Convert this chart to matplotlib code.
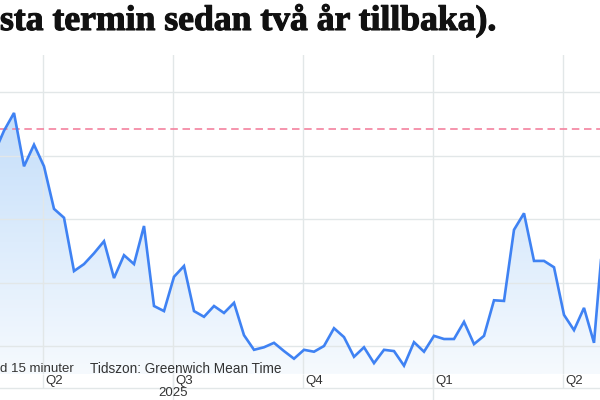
import numpy as np
import matplotlib
matplotlib.use("Agg")
import matplotlib.pyplot as plt
from matplotlib.patches import Polygon
import matplotlib.patheffects as pe

# ---- data (weekly points) ----
week_idx = list(range(-1, 61))
values = [40.3, 43.9, 46.7, 38.3, 41.7, 38.3, 31.6, 30.2, 21.8, 22.9, 24.6,
          26.5, 20.7, 24.3, 22.9, 28.9, 16.3, 15.5, 20.9, 22.6, 15.5,
          14.6, 16.3, 15.2, 16.8, 11.7, 9.4, 9.8, 10.5, 9.2, 8.0,
          9.4, 9.1, 10.0, 12.8, 11.4, 8.3, 9.8, 7.3, 9.4, 9.2,
          6.9, 10.6, 9.1, 11.6, 11.1, 11.1, 13.8, 10.3, 11.6, 17.2,
          17.1, 28.3, 30.9, 23.4, 23.4, 22.4, 14.9, 12.5, 16.0, 10.5,
          29.1]
reference_level = 44.2
quarter_pos = [3.9, 16.9, 29.9, 42.9, 55.9]
quarter_labels = ["Q2", "Q3", "Q4", "Q1", "Q2"]
year_pos = [16.9]
year_labels = ["2025"]
year_bounds = [16.9, 42.9]
title_text = "sta termin sedan två år tillbaka)."
note_left = "d 15 minuter"
note_tz = "Tidszon: Greenwich Mean Time"

W, H = 600, 400
fig = plt.figure(figsize=(6, 4), dpi=100)
fig.patch.set_facecolor("white")

ax_bottom_px, ax_top_px = 374, 55
ax = fig.add_axes([0, (H - ax_bottom_px) / H, 1, (ax_bottom_px - ax_top_px) / H])
ax.set_xlim(-0.4, 59.6)
ax.set_ylim(5.59, 55.83)
for s in ax.spines.values():
    s.set_visible(False)

grid_c = "#e2e7e8"
ax.set_yticks([10, 20, 30, 40, 50])
ax.set_xticks(quarter_pos)
ax.grid(True, color=grid_c, lw=1.0, zorder=0)
ax.tick_params(axis="y", left=False, labelleft=False)
ax.tick_params(axis="x", direction="out", length=10, width=1.0, color=grid_c,
               labelbottom=False)

x = np.array(week_idx, dtype=float)
y = np.array(values)

# gradient fill under line
y0 = ax.get_ylim()[0]
poly_xy = np.vstack([np.column_stack([x, y]), [[x[-1], y0], [x[0], y0]]])
poly = Polygon(poly_xy, closed=True, facecolor="none", edgecolor="none")
ax.add_patch(poly)
top_c = np.array([196, 222, 250]) / 255
bot_c = np.array([246, 250, 254]) / 255
n = 256
t = np.linspace(0, 1, n)[:, None]
grad = (top_c * (1 - t) + bot_c * t)[:, None, :]
ymax_fill = 47
im = ax.imshow(grad, extent=[x[0], x[-1], y0, ymax_fill], aspect="auto",
               origin="upper", zorder=1)
im.set_clip_path(poly)

ax.plot(x, y, color="#3f82f3", lw=1.9, zorder=3, solid_joinstyle="miter")
ax.axhline(reference_level, color="#f4829e", lw=1.2, dashes=(4.5, 2.8), zorder=2)

ax.set_xlim(-0.4, 59.6)
ax.set_ylim(5.59, 55.83)

fs = 9.5
xt = ax.get_xaxis_transform()
ax_h = ax_bottom_px - ax_top_px
for p, lab in zip(quarter_pos, quarter_labels):
    ax.text(p + 0.25, -(381 - ax_bottom_px) / ax_h, lab, transform=xt,
            ha="left", va="center", fontsize=fs, color="#333333",
            family="Liberation Sans", clip_on=False)
ax.vlines(year_bounds, -(400 - ax_bottom_px) / ax_h, 0, transform=xt,
          color=grid_c, lw=1.0, clip_on=False)
ax.plot([0, 1], [-(388 - ax_bottom_px) / ax_h] * 2, transform=ax.transAxes,
        color=grid_c, lw=1.0, clip_on=False)
for p, lab in zip(year_pos, year_labels):
    ax.text(p, -(393.5 - ax_bottom_px) / ax_h, lab, transform=xt,
            ha="center", va="center", fontsize=fs, color="#333333",
            family="Liberation Sans", clip_on=False)

ax.text(0.0, (ax_bottom_px - 369) / ax_h, note_left, transform=ax.transAxes,
        ha="left", va="center", fontsize=fs, color="#333333",
        family="Liberation Sans", zorder=5)
ax.text(90 / W, (ax_bottom_px - 369) / ax_h, note_tz, transform=ax.transAxes,
        ha="left", va="center", fontsize=9.8, color="#333333",
        family="Liberation Sans", zorder=5)

# title, fitted to the visible width
title = fig.text(0.0, (H - 30) / H, title_text, ha="left", va="baseline",
                 fontsize=20, fontweight="bold", family="Liberation Serif",
                 color="#111111",
                 path_effects=[pe.withStroke(linewidth=0.8, foreground="#111111")])
fig.canvas.draw()
bb = title.get_window_extent()
title.set_fontsize(20 * 497 / bb.width)

fig.savefig("out.png", dpi=100)
